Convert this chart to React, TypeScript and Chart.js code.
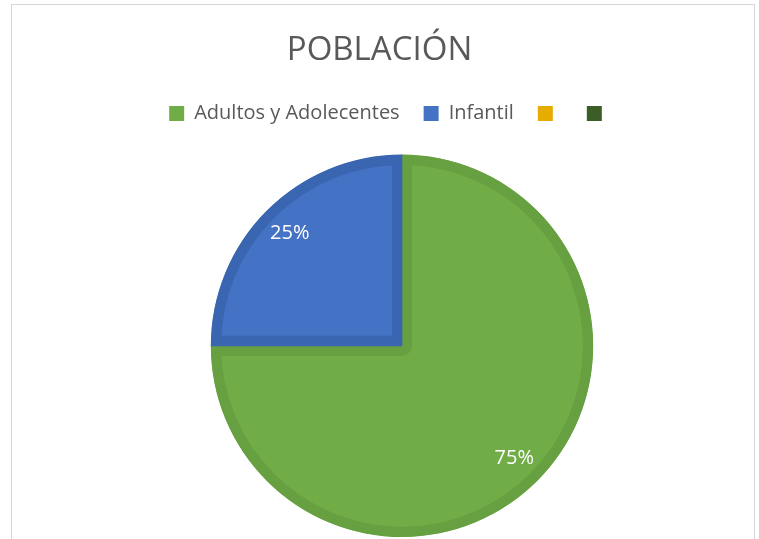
import React, { useEffect, useRef } from "react";
import { Chart, registerables } from "chart.js";

Chart.register(...registerables);

const TITLE = "POBLACIÓN";
const CATEGORIES = ["Adultos y Adolecentes", "Infantil", "", ""];
const VALUES = [75, 25, 0, 0];
const FILL_COLORS = ["#70ad47", "#4472c4", "#e6ac00", "#3b5e27"];
const BORDER_COLORS = ["#66a040", "#3a66b1", "#d9a000", "#33521f"];
const TEXT_COLOR = "#595959";
const FONT = "'Open Sans', 'Noto Sans', sans-serif";

// layout nudges (title stays centred on the canvas)
const AREA_SHIFT_X = 22.5;
const AREA_EXTRA_TOP = 21;
const LEGEND_SHIFT_X = 11;
const LABEL_RADIUS_RATIO = 0.83;

const areaNudge = {
  id: "areaNudge",
  afterLayout(chart: any) {
    const a = chart.chartArea;
    a.left += AREA_SHIFT_X;
    a.right += AREA_SHIFT_X;
    a.top += AREA_EXTRA_TOP;
    a.width = a.right - a.left;
    a.height = a.bottom - a.top;
    if (chart.legend) {
      chart.legend.left += LEGEND_SHIFT_X;
      chart.legend.right += LEGEND_SHIFT_X;
    }
  },
};

const pctLabels = {
  id: "pctLabels",
  afterDatasetsDraw(chart: any) {
    const ctx = chart.ctx;
    const meta = chart.getDatasetMeta(0);
    const data = chart.data.datasets[0].data as number[];
    const total = data.reduce((s, v) => s + v, 0);
    ctx.save();
    ctx.fillStyle = "#ffffff";
    ctx.font = `20px ${FONT}`;
    ctx.textAlign = "center";
    ctx.textBaseline = "middle";
    meta.data.forEach((arc: any, i: number) => {
      const v = data[i];
      if (!v) return;
      const { x, y, startAngle, endAngle, outerRadius } = arc.getProps(
        ["x", "y", "startAngle", "endAngle", "outerRadius"],
        true
      );
      const mid = (startAngle + endAngle) / 2;
      const r = outerRadius * LABEL_RADIUS_RATIO;
      const pct = Math.round((v / total) * 100);
      ctx.fillText(`${pct}%`, x + Math.cos(mid) * r, y + Math.sin(mid) * r);
    });
    ctx.restore();
  },
};

export default function App() {
  const ref = useRef<HTMLCanvasElement | null>(null);

  useEffect(() => {
    if (!ref.current) return;
    const defaultGen = (Chart as any).overrides.pie.plugins.legend.labels.generateLabels;
    const chart = new Chart(ref.current, {
      type: "pie",
      data: {
        labels: CATEGORIES,
        datasets: [
          {
            data: VALUES,
            backgroundColor: FILL_COLORS,
            borderColor: BORDER_COLORS,
            borderWidth: 10,
            borderAlign: "inner",
            hoverOffset: 0,
          } as any,
        ],
      },
      options: {
        responsive: false,
        animation: false,
        events: [],
        layout: { padding: { bottom: 2 } },
        plugins: {
          title: {
            display: true,
            text: TITLE,
            color: TEXT_COLOR,
            font: { family: FONT, size: 33, weight: "normal" as any },
            padding: { top: 31, bottom: 9 },
          },
          legend: {
            display: true,
            position: "top",
            labels: {
              color: TEXT_COLOR,
              font: { family: FONT, size: 20 },
              boxWidth: 15,
              boxHeight: 15,
              padding: 24,
              generateLabels: (c: any) =>
                defaultGen(c).map((it: any, i: number) => ({
                  ...it,
                  strokeStyle: FILL_COLORS[i],
                  lineWidth: 0,
                })),
            },
          },
          tooltip: { enabled: false },
        },
      },
      plugins: [areaNudge, pctLabels],
    });
    return () => chart.destroy();
  }, []);

  return (
    <div
      style={{
        position: "fixed",
        left: 0,
        top: 0,
        width: 759,
        height: 539,
        background: "#ffffff",
        overflow: "hidden",
      }}
    >
      <div
        style={{
          position: "absolute",
          left: 11,
          top: 4,
          width: 744,
          height: 700,
          boxSizing: "border-box",
          border: "1px solid #d6d6d6",
        }}
      />
      <canvas
        ref={ref}
        width={759}
        height={539}
        style={{ position: "absolute", left: 0, top: 0, width: 759, height: 539 }}
      />
    </div>
  );
}
